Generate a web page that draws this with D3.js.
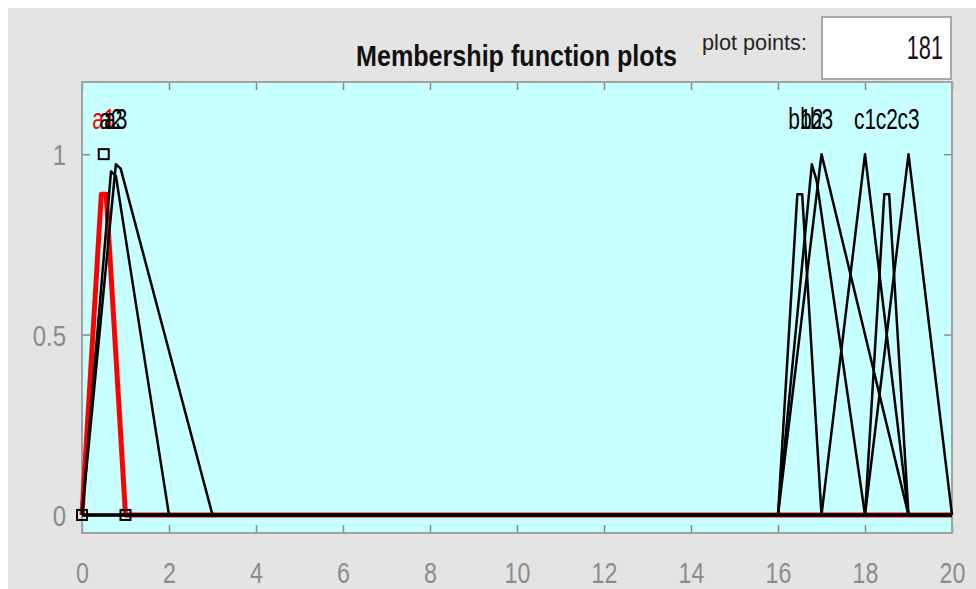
<!DOCTYPE html>
<html>
<head>
<meta charset="utf-8">
<script src="https://cdn.jsdelivr.net/npm/d3@7"></script>
<style>
  html, body { margin: 0; padding: 0; background: #fff; }
  svg { display: block; }
</style>
</head>
<body>
<svg id="chart" width="976" height="589"></svg>
<script>
// membership functions, vertices (181 points)
var mfNames  = ["a1", "a2", "a3", "b1", "b2", "b3", "c1", "c2", "c3"];
var mfX = [
  [0, 0.444, 0.556, 1, 20],
  [0, 0.667, 0.778, 2, 20],
  [0, 0.778, 0.889, 3, 20],
  [0, 16, 16.444, 16.556, 17, 20],
  [0, 16, 16.778, 16.889, 18, 20],
  [0, 16, 17, 19, 20],
  [0, 17, 18, 19, 20],
  [0, 18, 18.444, 18.556, 19, 20],
  [0, 18, 19, 20]
];
var mfY = [
  [0, 0.889, 0.889, 0, 0],
  [0, 0.952, 0.940, 0, 0],
  [0, 0.972, 0.960, 0, 0],
  [0, 0, 0.889, 0.889, 0, 0],
  [0, 0, 0.972, 0.926, 0, 0],
  [0, 0, 1, 0, 0],
  [0, 0, 1, 0, 0],
  [0, 0, 0.889, 0.889, 0, 0],
  [0, 0, 1, 0]
];
var labelX = [0.5, 0.667, 0.778, 16.5, 16.778, 17, 18, 18.5, 19];
var selectedMf = "a1";
var selParamX = [0, 0.5, 1];
var selParamY = [0, 1, 0];
var xTicks = [0, 2, 4, 6, 8, 10, 12, 14, 16, 18, 20];
var yTicks = [0, 0.5, 1];
var plotPoints = 181;

var FONT = "'Liberation Sans', Arial, sans-serif";
var svg = d3.select("#chart");

// figure panel
svg.append("rect").attr("x", 8).attr("y", 8).attr("width", 968).attr("height", 581).attr("fill", "#e4e4e4");

var axL = 82, axR = 952, axT = 82, axB = 533;
var x = d3.scaleLinear().domain([0, 20]).range([axL, axR]);
var y = d3.scaleLinear().domain([-0.05, 1.2]).range([axB, axT]);

svg.append("rect")
  .attr("x", axL).attr("y", axT)
  .attr("width", axR - axL).attr("height", axB - axT)
  .attr("fill", "#c8ffff");

// axes (ticks inward, box on)
var gx = svg.append("g").attr("transform", "translate(0," + axB + ")")
  .call(d3.axisBottom(x).tickValues(xTicks).tickSizeInner(-8).tickSizeOuter(0));
var gxt = svg.append("g").attr("transform", "translate(0," + axT + ")")
  .call(d3.axisTop(x).tickValues(xTicks).tickSizeInner(-8).tickSizeOuter(0).tickFormat(""));
var gy = svg.append("g").attr("transform", "translate(" + axL + ",0)")
  .call(d3.axisLeft(y).tickValues(yTicks).tickSizeInner(-8).tickSizeOuter(0).tickFormat(d3.format("")));
var gyr = svg.append("g").attr("transform", "translate(" + axR + ",0)")
  .call(d3.axisRight(y).tickValues(yTicks).tickSizeInner(-8).tickSizeOuter(0).tickFormat(""));

[gx, gxt, gy, gyr].forEach(function(g) {
  g.select(".domain").remove();
  g.selectAll("line").attr("stroke", "#8a8a8a").attr("stroke-width", 1.5);
  g.selectAll("text").attr("fill", "#8c8c8c").attr("font-family", FONT).attr("font-size", 30);
});
gx.selectAll("text").attr("dy", null).attr("y", 0).attr("font-size", 29)
  .attr("transform", "translate(0,50) scale(0.8,1)");
gy.selectAll("text").attr("x", 0).attr("dy", "0.36em")
  .attr("transform", "translate(-16,0) scale(0.8,1)");

svg.append("rect")
  .attr("x", axL).attr("y", axT)
  .attr("width", axR - axL).attr("height", axB - axT)
  .attr("fill", "none").attr("stroke", "#a3a3a3").attr("stroke-width", 2);

// curves
var line = d3.line().x(function(d) { return x(d[0]); }).y(function(d) { return y(d[1]); });
var curves = mfNames.map(function(n, i) {
  return { name: n, pts: mfX[i].map(function(v, j) { return [v, mfY[i][j]]; }) };
});

var plot = svg.append("g");
plot.selectAll("path.sel")
  .data(curves.filter(function(c) { return c.name == selectedMf; }))
  .enter().append("path")
  .attr("d", function(c) { return line(c.pts); })
  .attr("fill", "none").attr("stroke", "#ff0000").attr("stroke-width", 5)
  .attr("stroke-linejoin", "round");
plot.selectAll("path.mf")
  .data(curves.filter(function(c) { return c.name != selectedMf; }))
  .enter().append("path")
  .attr("d", function(c) { return line(c.pts); })
  .attr("fill", "none").attr("stroke", "#000").attr("stroke-width", 2.5)
  .attr("stroke-linejoin", "round");

// parameter squares of selected mf
selParamX.forEach(function(v, i) {
  plot.append("rect")
    .attr("x", x(v) - 5).attr("y", y(selParamY[i]) - 5)
    .attr("width", 10).attr("height", 10)
    .attr("fill", "none").attr("stroke", "#000").attr("stroke-width", 2);
});

// labels
mfNames.forEach(function(n, i) {
  plot.append("text")
    .attr("transform", "translate(" + x(labelX[i]) + "," + y(1.1) + ") scale(0.72,1)")
    .attr("text-anchor", "middle").attr("dy", "0.36em")
    .attr("font-family", FONT).attr("font-size", 29)
    .attr("fill", n == selectedMf ? "#ff0000" : "#000")
    .text(n);
});

// title and plot points box
svg.append("text")
  .attr("x", 356).attr("y", 66)
  .attr("font-family", FONT).attr("font-weight", "bold").attr("font-size", 29)
  .attr("textLength", 321).attr("lengthAdjust", "spacingAndGlyphs")
  .attr("fill", "#111")
  .text("Membership function plots");

svg.append("text")
  .attr("x", 702).attr("y", 50)
  .attr("font-family", FONT).attr("font-size", 22)
  .attr("textLength", 105).attr("lengthAdjust", "spacingAndGlyphs")
  .attr("fill", "#2a2420")
  .text("plot points:");

svg.append("rect")
  .attr("x", 822).attr("y", 17).attr("width", 129).attr("height", 62)
  .attr("fill", "#fff").attr("stroke", "#a8a8a8").attr("stroke-width", 2);
svg.append("text")
  .attr("transform", "translate(943,59) scale(0.66,1)")
  .attr("text-anchor", "end")
  .attr("font-family", FONT).attr("font-size", 33)
  .attr("fill", "#1a1020")
  .text(plotPoints);
</script>
</body>
</html>
